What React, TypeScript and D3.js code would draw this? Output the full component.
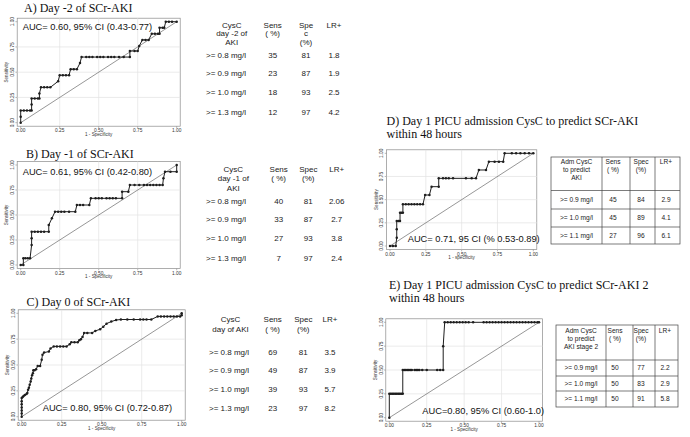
import React from 'react';
import * as d3 from 'd3';

type Pt = [number, number];

// ROC points: [1 - specificity, sensitivity]
const rocA: Pt[] = [
  [0, 0], [0, 0.06], [0, 0.12], [0.02, 0.12], [0.04, 0.12], [0.06, 0.12], [0.07, 0.12], [0.07, 0.18], [0.07, 0.24],
  [0.09, 0.24], [0.11, 0.24], [0.12, 0.24], [0.12, 0.29], [0.13, 0.35], [0.15, 0.35], [0.17, 0.35], [0.19, 0.35],
  [0.24, 0.41], [0.25, 0.47], [0.27, 0.47], [0.29, 0.47], [0.31, 0.47], [0.32, 0.53], [0.34, 0.53], [0.36, 0.53],
  [0.38, 0.59], [0.39, 0.65], [0.42, 0.65], [0.44, 0.65], [0.46, 0.65], [0.49, 0.65], [0.51, 0.65], [0.53, 0.65],
  [0.56, 0.65], [0.58, 0.65], [0.6, 0.65], [0.63, 0.65], [0.66, 0.65], [0.7, 0.65], [0.7, 0.71], [0.73, 0.71],
  [0.75, 0.71], [0.76, 0.76], [0.78, 0.82], [0.8, 0.82], [0.82, 0.82], [0.84, 0.88], [0.86, 0.88], [0.88, 0.88],
  [0.89, 0.88], [0.89, 0.94], [0.91, 0.94], [0.92, 0.94], [0.93, 1], [0.95, 1], [0.97, 1], [1, 1],
];

const rocB: Pt[] = [
  [0, 0], [0.017, 0], [0.017, 0.067], [0.03, 0.067], [0.045, 0.067], [0.06, 0.067], [0.07, 0.2], [0.07, 0.267],
  [0.07, 0.333], [0.09, 0.333], [0.11, 0.333], [0.13, 0.333], [0.15, 0.333], [0.18, 0.333], [0.18, 0.4],
  [0.2, 0.467], [0.22, 0.533], [0.24, 0.533], [0.26, 0.533], [0.28, 0.533], [0.31, 0.533], [0.35, 0.533],
  [0.36, 0.6], [0.38, 0.6], [0.4, 0.6], [0.44, 0.6], [0.45, 0.667], [0.48, 0.667], [0.5, 0.667], [0.52, 0.667],
  [0.55, 0.667], [0.57, 0.667], [0.59, 0.667], [0.61, 0.667], [0.65, 0.667], [0.65, 0.733], [0.69, 0.733],
  [0.7, 0.8], [0.73, 0.8], [0.76, 0.8], [0.79, 0.8], [0.81, 0.8], [0.83, 0.8], [0.85, 0.8], [0.87, 0.8],
  [0.89, 0.8], [0.91, 0.8], [0.915, 0.867], [0.925, 0.933], [0.96, 0.933], [1, 0.933], [1, 1],
];

const rocC: Pt[] = [
  [0, 0], [0, 0.03], [0, 0.06], [0, 0.09], [0, 0.12], [0, 0.15], [0, 0.18], [0.006, 0.19], [0.012, 0.2],
  [0.02, 0.21], [0.03, 0.22], [0.035, 0.23], [0.04, 0.26], [0.045, 0.28], [0.05, 0.31], [0.056, 0.34],
  [0.06, 0.37], [0.065, 0.4], [0.07, 0.42], [0.073, 0.45], [0.08, 0.45], [0.09, 0.46], [0.1, 0.49],
  [0.115, 0.49], [0.125, 0.55], [0.13, 0.6], [0.14, 0.62], [0.17, 0.63], [0.18, 0.66], [0.2, 0.68],
  [0.22, 0.68], [0.24, 0.68], [0.26, 0.68], [0.28, 0.68], [0.3, 0.7], [0.31, 0.72], [0.33, 0.72], [0.35, 0.72],
  [0.36, 0.74], [0.37, 0.75], [0.38, 0.77], [0.39, 0.81], [0.41, 0.81], [0.44, 0.81], [0.46, 0.83],
  [0.49, 0.845], [0.51, 0.87], [0.53, 0.9], [0.56, 0.92], [0.59, 0.935], [0.62, 0.94], [0.66, 0.94],
  [0.7, 0.94], [0.74, 0.94], [0.76, 0.94], [0.78, 0.94], [0.81, 0.94], [0.85, 0.97], [0.87, 0.97],
  [0.89, 0.97], [0.91, 0.97], [0.93, 0.97], [0.95, 0.97], [0.97, 0.97], [0.99, 0.97], [1, 0.98], [1, 1],
];

const rocD: Pt[] = [
  [0, 0], [0.02, 0], [0.04, 0], [0.047, 0.09], [0.047, 0.18], [0.047, 0.27], [0.06, 0.27], [0.07, 0.27],
  [0.07, 0.36], [0.08, 0.36], [0.09, 0.36], [0.09, 0.45], [0.11, 0.45], [0.13, 0.45], [0.15, 0.45],
  [0.17, 0.45], [0.19, 0.45], [0.21, 0.45], [0.23, 0.45], [0.245, 0.55], [0.275, 0.55], [0.29, 0.64],
  [0.34, 0.64], [0.34, 0.73], [0.37, 0.73], [0.39, 0.73], [0.41, 0.73], [0.44, 0.73], [0.53, 0.73],
  [0.57, 0.73], [0.6, 0.73], [0.62, 0.82], [0.67, 0.82], [0.69, 0.91], [0.73, 0.91], [0.76, 0.91],
  [0.79, 0.91], [0.8, 1], [0.85, 1], [0.88, 1], [0.91, 1], [0.94, 1], [0.97, 1], [1, 1],
];

const rocE: Pt[] = [
  [0, 0], [0, 0.25], [0.01, 0.25], [0.02, 0.25], [0.03, 0.25], [0.04, 0.25], [0.05, 0.25], [0.06, 0.25],
  [0.07, 0.25], [0.08, 0.25], [0.09, 0.25], [0.09, 0.5], [0.1, 0.5], [0.11, 0.5], [0.12, 0.5], [0.13, 0.5],
  [0.14, 0.5], [0.15, 0.5], [0.17, 0.5], [0.18, 0.5], [0.19, 0.5], [0.2, 0.5], [0.22, 0.5], [0.25, 0.5],
  [0.32, 0.5], [0.34, 0.5], [0.36, 0.5], [0.36, 0.75], [0.37, 1], [0.39, 1], [0.41, 1], [0.43, 1], [0.45, 1],
  [0.47, 1], [0.49, 1], [0.51, 1], [0.53, 1], [0.56, 1], [0.63, 1], [0.65, 1], [0.67, 1], [0.69, 1], [0.71, 1],
  [0.73, 1], [0.75, 1], [0.77, 1], [0.79, 1], [0.81, 1], [0.83, 1], [0.85, 1], [0.87, 1], [0.89, 1], [0.91, 1],
  [0.93, 1], [0.95, 1], [0.97, 1], [0.99, 1], [1, 1],
];

const axisTicks = [0, 0.25, 0.5, 0.75, 1];

// tables
const cutoffsABC = ['>= 0.8 mg/l', '>= 0.9 mg/l', '>= 1.0 mg/l', '>= 1.3 mg/l'];
const specABC = ['81', '87', '93', '97'];
const sensA = ['35', '23', '18', '12'];
const lrA = ['1.8', '1.9', '2.5', '4.2'];
const sensB = ['40', '33', '27', '7'];
const lrB = ['2.06', '2.7', '3.8', '2.4'];
const sensC = ['69', '49', '39', '23'];
const lrC = ['3.5', '3.9', '5.7', '8.2'];

const cutoffsDE = ['>= 0.9 mg/l', '>= 1.0 mg/l', '>= 1.1 mg/l'];
const sensD = ['45', '45', '27'];
const specD = ['84', '89', '96'];
const lrD = ['2.9', '4.1', '6.1'];
const sensE = ['50', '50', '50'];
const specE = ['77', '83', '91'];
const lrE = ['2.2', '2.9', '5.8'];

const SANS = 'Liberation Sans, Arial, sans-serif';
const SERIF = 'Liberation Serif, Times New Roman, serif';
const INK = '#1e1e1e';

function RocPanel(props: any) {
  const { data, x0, x1, yb, yt, xTitle, auc, ax, ay } = props;
  const x = d3.scaleLinear().domain([0, 1]).range([x0, x1]);
  const y = d3.scaleLinear().domain([0, 1]).range([yb, yt]);
  const line = d3.line<Pt>().x(d => x(d[0])).y(d => y(d[1]));
  const fmt = d3.format('.2f');
  const pad = 3.5;
  const L = x0 - pad, R = x1 + pad, T = yt - pad, B = yb + pad;
  return (
    <g>
      <rect x={L} y={T} width={R - L} height={B - T} fill="#fff" stroke="#8a8a8a" strokeWidth={0.7} />
      {axisTicks.slice(1, -1).map(t => (
        <g key={'g' + t}>
          <line x1={x(t)} x2={x(t)} y1={T} y2={B} stroke="#e2e2e2" strokeWidth={0.7} />
          <line x1={L} x2={R} y1={y(t)} y2={y(t)} stroke="#e2e2e2" strokeWidth={0.7} />
        </g>
      ))}
      <line x1={x(0)} y1={y(0)} x2={x(1)} y2={y(1)} stroke="#6a6a6a" strokeWidth={0.7} />
      <path d={line(data) || ''} fill="none" stroke={INK} strokeWidth={1} />
      {data.map((d: Pt, i: number) => (
        <circle key={i} cx={x(d[0])} cy={y(d[1])} r={1.25} fill={INK} />
      ))}
      {axisTicks.map(t => (
        <g key={'t' + t} fontFamily={SANS} fontSize={4.8} fill="#333">
          <line x1={x(t)} x2={x(t)} y1={B} y2={B + 1.8} stroke="#8a8a8a" strokeWidth={0.6} />
          <line x1={L - 1.8} x2={L} y1={y(t)} y2={y(t)} stroke="#8a8a8a" strokeWidth={0.6} />
          <text x={x(t)} y={B + 6.2} textAnchor="middle">{fmt(t)}</text>
          <text transform={`translate(${L - 3.2},${y(t)}) rotate(-90)`} textAnchor="middle">{fmt(t)}</text>
        </g>
      ))}
      <text x={(L + R) / 2} y={B + 9.8} textAnchor="middle" fontFamily={SANS} fontSize={4.6} fill="#333">{xTitle}</text>
      <text transform={`translate(${L - 9},${(T + B) / 2}) rotate(-90)`} textAnchor="middle" fontFamily={SANS}
        fontSize={4.6} fill="#333">Sensitivity</text>
      <text x={ax} y={ay} dy="0.35em" fontFamily={SANS} fontSize={9.3} fill="#111">{auc}</text>
    </g>
  );
}

function PlainTable(props: any) {
  const { labelX, colX, head, rowsY, cutoffs, sens, spec, lr } = props;
  return (
    <g fontFamily={SANS} fontSize={8} fill="#222">
      {head.map((h: any, i: number) =>
        h.lines.map((s: string, j: number) => (
          <text key={i + '-' + j} x={h.x} y={h.y[j]} dy="0.35em" textAnchor="middle">{s}</text>
        ))
      )}
      {rowsY.map((ry: number, i: number) => (
        <g key={i}>
          <text x={labelX} y={ry} dy="0.35em">{cutoffs[i]}</text>
          <text x={colX[0]} y={ry} dy="0.35em" textAnchor="middle">{sens[i]}</text>
          <text x={colX[1]} y={ry} dy="0.35em" textAnchor="middle">{spec[i]}</text>
          <text x={colX[2]} y={ry} dy="0.35em" textAnchor="middle">{lr[i]}</text>
        </g>
      ))}
    </g>
  );
}

function BoxTable(props: any) {
  const { xs, ys, cx, headY, firstHead, sens, spec, lr } = props;
  const heads = [firstHead, ['Sens', '( %)'], ['Spec', '(%)'], ['LR+']];
  const rows = cutoffsDE.map((c, i) => [c, sens[i], spec[i], lr[i]]);
  return (
    <g fontFamily={SANS} fontSize={6.6} fill="#222">
      <rect x={xs[0]} y={ys[0]} width={xs[xs.length - 1] - xs[0]} height={ys[ys.length - 1] - ys[0]}
        fill="none" stroke="#444" strokeWidth={0.7} />
      {xs.slice(1, -1).map((v: number) => (
        <line key={'v' + v} x1={v} x2={v} y1={ys[0]} y2={ys[ys.length - 1]} stroke="#444" strokeWidth={0.7} />
      ))}
      {ys.slice(1, -1).map((v: number) => (
        <line key={'h' + v} x1={xs[0]} x2={xs[xs.length - 1]} y1={v} y2={v} stroke="#444" strokeWidth={0.7} />
      ))}
      {heads.map((h, i) =>
        h.map((s: string, j: number) => (
          <text key={i + '-' + j} x={cx[i]} y={headY[j]} dy="0.35em" textAnchor="middle">{s}</text>
        ))
      )}
      {rows.map((r, i) =>
        r.map((s, j) => (
          <text key={i + '-' + j} x={cx[j]} y={(ys[i + 1] + ys[i + 2]) / 2} dy="0.35em" textAnchor="middle">{s}</text>
        ))
      )}
    </g>
  );
}

export default function App() {
  return (
    <svg width={690} height={437} style={{ position: 'absolute', left: 0, top: 0, background: '#fff' }}>
      <rect width={690} height={437} fill="#fff" />
      <g fontFamily={SERIF} fontSize={12} fill="#111">
        <text x={24} y={11.8}>A) Day -2 of SCr-AKI</text>
        <text x={26} y={158.3}>B) Day -1 of SCr-AKI</text>
        <text x={26.5} y={306}>C) Day 0 of SCr-AKI</text>
        <text x={386.5} y={124.5}>D) Day 1 PICU admission CysC to predict SCr-AKI</text>
        <text x={386.5} y={137.5}>within 48 hours</text>
        <text x={389} y={288.8}>E) Day 1 PICU admission CysC to predict SCr-AKI 2</text>
        <text x={389} y={301.9}>within 48 hours</text>
      </g>

      <RocPanel data={rocA} x0={20.7} x1={176.7} yb={122.7} yt={21.7} xTitle="1 - Specificity"
        auc="AUC= 0.60, 95% CI (0.43-0.77)" ax={22.7} ay={26.7} />
      <RocPanel data={rocB} x0={20.7} x1={176.7} yb={265} yt={165} xTitle="1 - Specificity"
        auc="AUC= 0.61, 95% CI (0.42-0.80)" ax={22.7} ay={171.7} />
      <RocPanel data={rocC} x0={21.7} x1={181.7} yb={416.7} yt={313.3} xTitle="1 - Specificity"
        auc="AUC= 0.80, 95% CI (0.72-0.87)" ax={42.7} ay={407.3} />
      <RocPanel data={rocD} x0={390} x1={533.3} yb={246} yt={153.3} xTitle="1 - specificity"
        auc="AUC= 0.71, 95 CI (% 0.53-0.89)" ax={407.7} ay={238.3} />
      <RocPanel data={rocE} x0={389.3} x1={539} yb={417.7} yt={322.3} xTitle="1 - Specificity"
        auc="AUC=0.80, 95% CI (0.60-1.0)" ax={422.3} ay={410.7} />

      <PlainTable labelX={206} colX={[272.7, 306, 334]} rowsY={[55, 73.3, 92.3, 111.7]}
        cutoffs={cutoffsABC} sens={sensA} spec={specABC} lr={lrA}
        head={[
          { x: 231.7, y: [25, 33.5, 42], lines: ['CysC', 'day -2 of', 'AKI'] },
          { x: 272.7, y: [25, 33.5], lines: ['Sens', '( %)'] },
          { x: 306, y: [25, 33.5, 42], lines: ['Spe', 'c', '(%)'] },
          { x: 334, y: [25], lines: ['LR+'] },
        ]} />
      <PlainTable labelX={206} colX={[278.7, 308.3, 336.7]} rowsY={[201, 219.3, 238.3, 258.3]}
        cutoffs={cutoffsABC} sens={sensB} spec={specABC} lr={lrB}
        head={[
          { x: 233.3, y: [169.3, 178.5, 187.7], lines: ['CysC', 'day -1 of', 'AKI'] },
          { x: 278.7, y: [169.3, 178.5], lines: ['Sens', '( %)'] },
          { x: 308.3, y: [169.3, 178.5], lines: ['Spec', '(%)'] },
          { x: 336.7, y: [169.3], lines: ['LR+'] },
        ]} />
      <PlainTable labelX={209} colX={[272.7, 303.3, 330]} rowsY={[351.7, 370, 389.3, 408.3]}
        cutoffs={cutoffsABC} sens={sensC} spec={specABC} lr={lrC}
        head={[
          { x: 230.5, y: [319.3, 329.3], lines: ['CysC', 'day of AKI'] },
          { x: 272.7, y: [319.3, 329.3], lines: ['Sens', '( %)'] },
          { x: 303.3, y: [319.3, 329.3], lines: ['Spec', '(%)'] },
          { x: 330, y: [319.3], lines: ['LR+'] },
        ]} />

      <BoxTable xs={[551, 602, 630, 655, 680]} ys={[157, 190.5, 209, 227, 244]} cx={[576.5, 613, 641, 666]}
        headY={[161.5, 170, 178]} firstHead={['Adm CysC', 'to predict', 'AKI']}
        sens={sensD} spec={specD} lr={lrD} />
      <BoxTable xs={[556, 606, 633, 655, 678]} ys={[325, 360, 376, 391, 407]} cx={[581, 615, 641, 665]}
        headY={[331, 339, 347]} firstHead={['Adm CysC', 'to predict', 'AKI stage 2']}
        sens={sensE} spec={specE} lr={lrE} />
    </svg>
  );
}
